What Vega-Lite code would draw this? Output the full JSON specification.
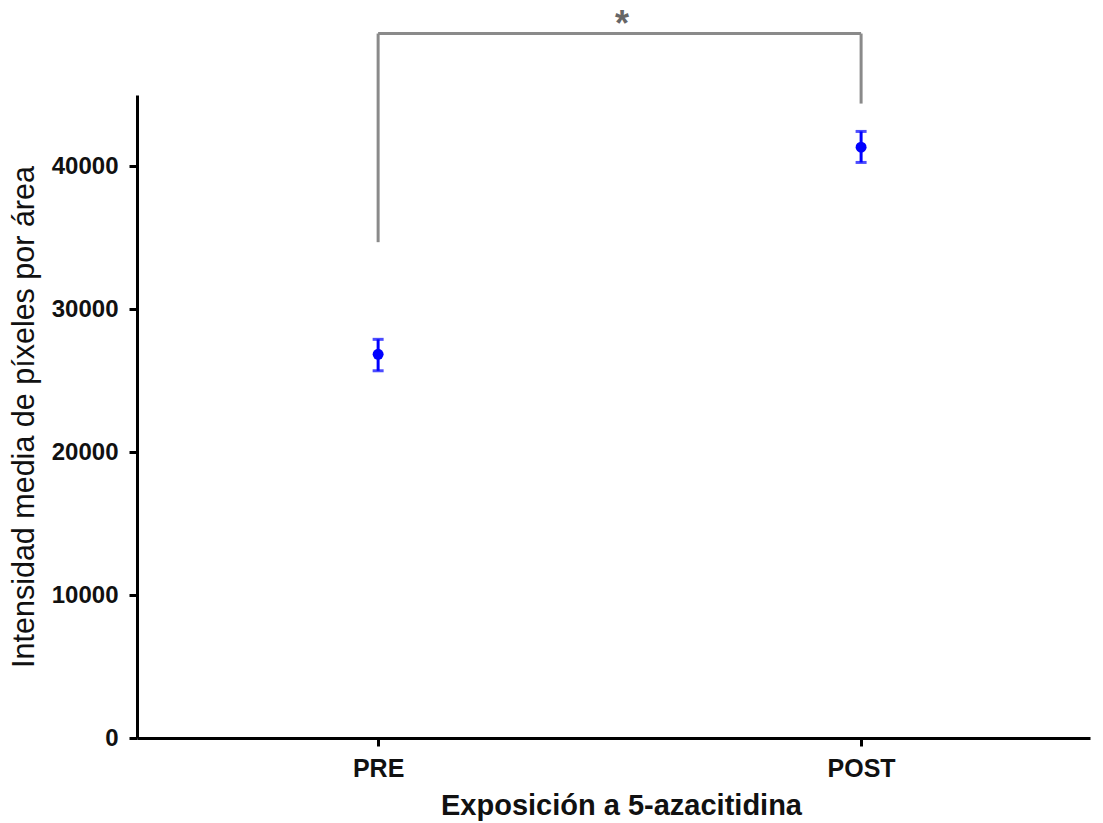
{
  "$schema": "https://vega.github.io/schema/vega-lite/v6.json",
  "width": 953,
  "height": 643,
  "autosize": {"type": "none"},
  "padding": {"left": 137, "top": 95, "right": 13, "bottom": 85},
  "background": "white",
  "config": {
    "view": {"stroke": null},
    "font": "Liberation Sans",
    "axis": {
      "grid": false,
      "domainColor": "#000000",
      "domainWidth": 3,
      "tickColor": "#000000",
      "tickWidth": 3,
      "tickSize": 8,
      "labelFont": "Liberation Sans",
      "labelFontWeight": "bold",
      "labelFontSize": 24,
      "labelColor": "#111111",
      "titleFont": "Liberation Sans",
      "titleColor": "#111111"
    }
  },
  "datasets": {
    "points": [
      {"grupo": "PRE", "media": 26850, "lo": 25700, "hi": 27900},
      {"grupo": "POST", "media": 41350, "lo": 40280, "hi": 42450}
    ],
    "bracket": [
      {"grupo": "PRE", "y0": 34700, "y1": 49300},
      {"grupo": "POST", "y0": 44400, "y1": 49300}
    ],
    "star": [
      {"grupo": "PRE", "y": 50300, "label": "*"}
    ]
  },
  "encoding": {
    "x": {
      "field": "grupo",
      "type": "nominal",
      "sort": ["PRE", "POST"],
      "scale": {"type": "point", "padding": 0.4866, "align": 0.513},
      "axis": {
        "title": "Exposición a 5-azacitidina",
        "titleFontWeight": "bold",
        "titleFontSize": 29,
        "titleX": 484,
        "labelFontSize": 25,
        "labelAngle": 0,
        "labelPadding": 10,
        "titlePadding": 10
      }
    }
  },
  "layer": [
    {
      "data": {"name": "bracket"},
      "mark": {"type": "rule", "color": "#8a8a8a", "strokeWidth": 3},
      "encoding": {
        "y": {"field": "y0", "type": "quantitative", "scale": {"domain": [0, 45000], "nice": false}},
        "y2": {"field": "y1"}
      }
    },
    {
      "data": {"name": "star"},
      "mark": {"type": "rule", "color": "#8a8a8a", "strokeWidth": 3},
      "encoding": {
        "x2": {"datum": "POST"},
        "y": {"datum": 49300, "type": "quantitative"}
      }
    },
    {
      "data": {"name": "star"},
      "mark": {"type": "text", "color": "#666666", "fontSize": 36, "fontWeight": "bold", "dx": 244, "baseline": "middle", "dy": 6},
      "encoding": {
        "y": {"field": "y", "type": "quantitative"},
        "text": {"field": "label"}
      }
    },
    {
      "data": {"name": "points"},
      "mark": {"type": "rule", "color": "#0000ff", "strokeWidth": 3},
      "encoding": {
        "y": {"field": "lo", "type": "quantitative"},
        "y2": {"field": "hi"}
      }
    },
    {
      "data": {"name": "points"},
      "mark": {"type": "tick", "color": "#0000ff", "thickness": 3, "size": 11, "orient": "horizontal"},
      "encoding": {"y": {"field": "lo", "type": "quantitative"}}
    },
    {
      "data": {"name": "points"},
      "mark": {"type": "tick", "color": "#0000ff", "thickness": 3, "size": 11, "orient": "horizontal"},
      "encoding": {"y": {"field": "hi", "type": "quantitative"}}
    },
    {
      "data": {"name": "points"},
      "mark": {"type": "point", "filled": true, "shape": "circle", "color": "#0000ff", "size": 120, "opacity": 1},
      "encoding": {
        "y": {
          "field": "media",
          "type": "quantitative",
          "axis": {
            "title": "Intensidad media de píxeles por área",
            "titleFontWeight": "normal",
            "titleFontSize": 30.5,
            "values": [0, 10000, 20000, 30000, 40000],
            "format": "d",
            "labelPadding": 11,
            "titlePadding": 12
          }
        }
      }
    }
  ]
}
